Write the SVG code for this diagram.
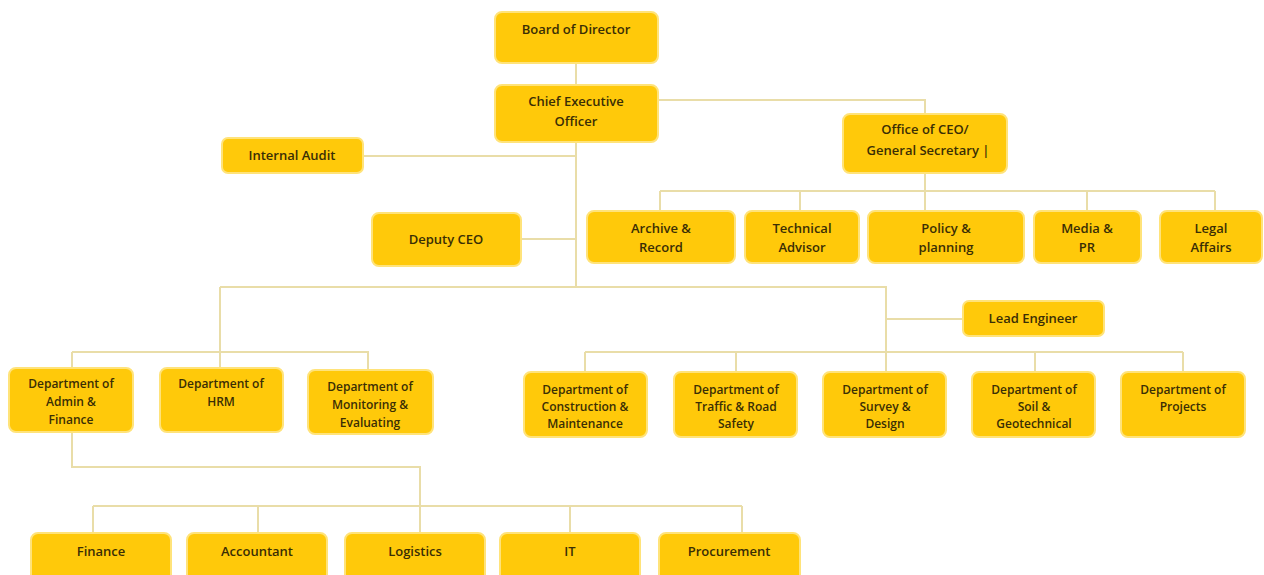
<svg xmlns="http://www.w3.org/2000/svg" width="1264" height="575" viewBox="0 0 1264 575">
<style>
.box{fill:#FFC90A;stroke:#FFE37A;stroke-width:2}
.t{font-family:"Open Sans","Liberation Sans",Arial,sans-serif;font-weight:600;font-size:13px;fill:#3A2E05;text-anchor:middle}
.s{font-size:12px}
.c{fill:none;stroke:#E9DDA8;stroke-width:2}
</style>
<rect width="1264" height="575" fill="#ffffff"/>
<g id="connectors" class="c">
<path d="M576 64V85"/>
<path d="M576 142V287"/>
<path d="M658 100H925V114"/>
<path d="M363 156H576"/>
<path d="M521 239H576"/>
<path d="M925 173V211"/>
<path d="M660 191H1215"/>
<path d="M660 191V211M800 191V211M1087 191V211M1215 191V211"/>
<path d="M220 287H886V372"/>
<path d="M220 287V368"/>
<path d="M886 319H963"/>
<path d="M72 352H368V370M72 352V368"/>
<path d="M585 352H1183"/>
<path d="M585 352V372M736 352V372M1035 352V372M1183 352V372"/>
<path d="M72 432V467H420V533"/>
<path d="M93 506H742"/>
<path d="M93 506V533M258 506V533M570 506V533M742 506V533"/>
</g>
<g id="board"><rect class="box" x="495" y="12" width="163" height="51" rx="7"/><text class="t" x="576" y="34">Board of Director</text></g>
<g id="ceo"><rect class="box" x="495" y="85" width="163" height="57" rx="7"/><text class="t" x="576" y="106">Chief Executive</text><text class="t" x="576" y="126">Officer</text></g>
<g id="internal-audit"><rect class="box" x="222" y="138" width="141" height="35" rx="6"/><text class="t" x="292" y="160">Internal Audit</text></g>
<g id="deputy-ceo"><rect class="box" x="372" y="213" width="149" height="53" rx="7"/><text class="t" x="446" y="244">Deputy CEO</text></g>
<g id="office-ceo"><rect class="box" x="843" y="114" width="164" height="59" rx="7"/><text class="t" x="925" y="134">Office of CEO/</text><text class="t" x="928" y="155">General Secretary |</text></g>
<g id="archive"><rect class="box" x="587" y="211" width="148" height="52" rx="7"/><text class="t" x="661" y="233">Archive &amp;</text><text class="t" x="661" y="252">Record</text></g>
<g id="technical"><rect class="box" x="745" y="211" width="114" height="52" rx="7"/><text class="t" x="802" y="233">Technical</text><text class="t" x="802" y="252">Advisor</text></g>
<g id="policy"><rect class="box" x="868" y="211" width="156" height="52" rx="7"/><text class="t" x="946" y="233">Policy &amp;</text><text class="t" x="946" y="252">planning</text></g>
<g id="media"><rect class="box" x="1034" y="211" width="107" height="52" rx="7"/><text class="t" x="1087" y="233">Media &amp;</text><text class="t" x="1087" y="252">PR</text></g>
<g id="legal"><rect class="box" x="1160" y="211" width="102" height="52" rx="7"/><text class="t" x="1211" y="233">Legal</text><text class="t" x="1211" y="252">Affairs</text></g>
<g id="lead-engineer"><rect class="box" x="963" y="301" width="141" height="35" rx="6"/><text class="t" x="1033" y="323">Lead Engineer</text></g>
<g id="admin"><rect class="box" x="9" y="368" width="124" height="64" rx="7"/><text class="t s" x="71" y="388">Department of</text><text class="t s" x="71" y="406">Admin &amp;</text><text class="t s" x="71" y="424">Finance</text></g>
<g id="hrm"><rect class="box" x="160" y="368" width="123" height="64" rx="7"/><text class="t s" x="221" y="388">Department of</text><text class="t s" x="221" y="406">HRM</text></g>
<g id="monitoring"><rect class="box" x="308" y="370" width="125" height="64" rx="7"/><text class="t s" x="370" y="391">Department of</text><text class="t s" x="370" y="409">Monitoring &amp;</text><text class="t s" x="370" y="427">Evaluating</text></g>
<g id="construction"><rect class="box" x="524" y="372" width="123" height="65" rx="7"/><text class="t s" x="585" y="394">Department of</text><text class="t s" x="585" y="411">Construction &amp;</text><text class="t s" x="585" y="428">Maintenance</text></g>
<g id="traffic"><rect class="box" x="674" y="372" width="123" height="65" rx="7"/><text class="t s" x="736" y="394">Department of</text><text class="t s" x="736" y="411">Traffic &amp; Road</text><text class="t s" x="736" y="428">Safety</text></g>
<g id="survey"><rect class="box" x="823" y="372" width="123" height="65" rx="7"/><text class="t s" x="885" y="394">Department of</text><text class="t s" x="885" y="411">Survey &amp;</text><text class="t s" x="885" y="428">Design</text></g>
<g id="soil"><rect class="box" x="972" y="372" width="123" height="65" rx="7"/><text class="t s" x="1034" y="394">Department of</text><text class="t s" x="1034" y="411">Soil &amp;</text><text class="t s" x="1034" y="428">Geotechnical</text></g>
<g id="projects"><rect class="box" x="1121" y="372" width="124" height="65" rx="7"/><text class="t s" x="1183" y="394">Department of</text><text class="t s" x="1183" y="411">Projects</text></g>
<g id="finance"><rect class="box" x="31" y="533" width="140" height="50" rx="7"/><text class="t" x="101" y="556">Finance</text></g>
<g id="accountant"><rect class="box" x="187" y="533" width="140" height="50" rx="7"/><text class="t" x="257" y="556">Accountant</text></g>
<g id="logistics"><rect class="box" x="345" y="533" width="140" height="50" rx="7"/><text class="t" x="415" y="556">Logistics</text></g>
<g id="it"><rect class="box" x="500" y="533" width="140" height="50" rx="7"/><text class="t" x="570" y="556">IT</text></g>
<g id="procurement"><rect class="box" x="659" y="533" width="141" height="50" rx="7"/><text class="t" x="729" y="556">Procurement</text></g>
</svg>
